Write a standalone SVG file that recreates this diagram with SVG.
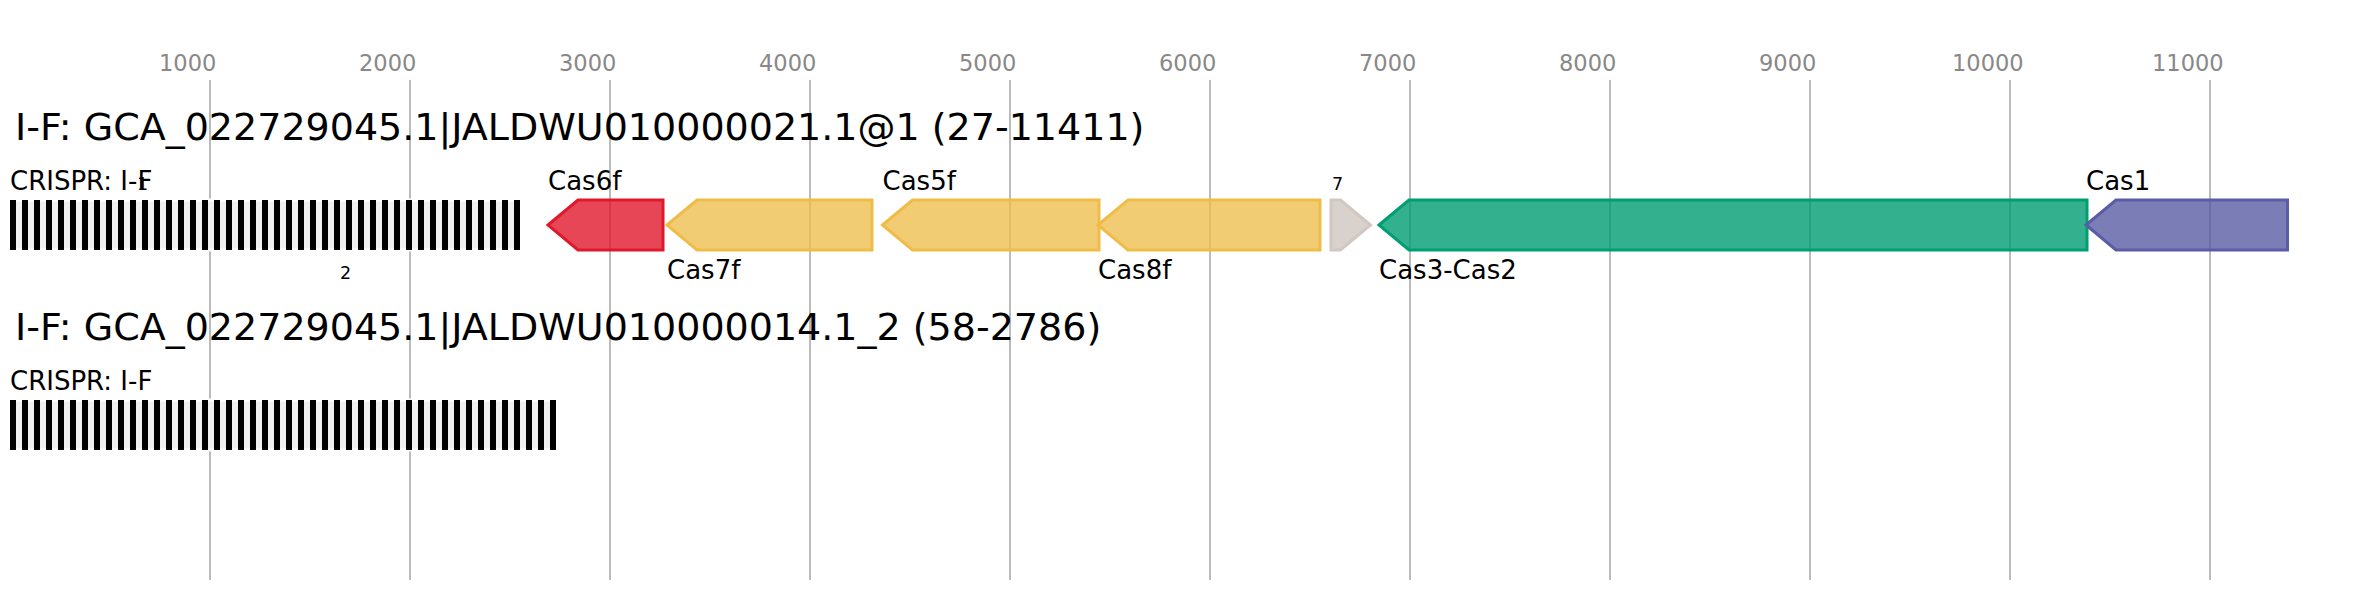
<svg xmlns="http://www.w3.org/2000/svg" width="2377" height="600" viewBox="0 0 2377 600">
<defs>
<style>
text{font-family:"DejaVu Sans","Liberation Sans",sans-serif;fill:#000}
.tick{font-size:22.5px;fill:#888}
.title{font-size:38px}
.lbl{font-size:26px}
.num{font-size:17.5px}
.grid line{stroke:#bbb;stroke-width:2}
.arrbg{fill:#f0f0f0;stroke:#fff;stroke-width:3}
.rep{fill:#000}
.gene{stroke-width:3;stroke-linejoin:miter;fill-opacity:0.8}
.red{fill:#e0182b;stroke:#e0182b}
.yel{fill:#efbf50;stroke:#f0bc48}
.gry{fill:#cfc5be;stroke:#d2c8c1}
.grn{fill:#009e73;stroke:#009e73}
.pur{fill:#5a5da5;stroke:#5a5da5}
</style>
<pattern id="rep" x="10" y="0" width="12" height="600" patternUnits="userSpaceOnUse">
<rect x="0" y="0" width="6" height="600" fill="#000"/>
</pattern>
</defs>
<rect width="2377" height="600" fill="#fff"/>
<g id="axis">
<g class="grid">
<line x1="210" y1="80" x2="210" y2="580"/>
<line x1="410" y1="80" x2="410" y2="580"/>
<line x1="610" y1="80" x2="610" y2="580"/>
<line x1="810" y1="80" x2="810" y2="580"/>
<line x1="1010" y1="80" x2="1010" y2="580"/>
<line x1="1210" y1="80" x2="1210" y2="580"/>
<line x1="1410" y1="80" x2="1410" y2="580"/>
<line x1="1610" y1="80" x2="1610" y2="580"/>
<line x1="1810" y1="80" x2="1810" y2="580"/>
<line x1="2010" y1="80" x2="2010" y2="580"/>
<line x1="2210" y1="80" x2="2210" y2="580"/>
</g>
<text class="tick" x="159" y="71">1000</text>
<text class="tick" x="359" y="71">2000</text>
<text class="tick" x="559" y="71">3000</text>
<text class="tick" x="759" y="71">4000</text>
<text class="tick" x="959" y="71">5000</text>
<text class="tick" x="1159" y="71">6000</text>
<text class="tick" x="1359" y="71">7000</text>
<text class="tick" x="1559" y="71">8000</text>
<text class="tick" x="1759" y="71">9000</text>
<text class="tick" x="1952" y="71">10000</text>
<text class="tick" x="2152" y="71">11000</text>
</g>
<g id="row1">
<text class="title" x="15" y="140">I-F: GCA_022729045.1|JALDWU010000021.1@1 (27-11411)</text>
<g id="crispr1">
<rect class="arrbg" x="10" y="200" width="510" height="50"/>
<rect x="10" y="200" width="510" height="50" fill="url(#rep)"/>
<text class="lbl" x="10" y="190">CRISPR: I-F</text>
<text class="num" x="137" y="190">1</text>
<text class="num" x="340" y="279">2</text>
</g>
<g id="cas6f">
<polygon class="gene red" points="548,225 578,200 663,200 663,250 578,250"/>
<text class="lbl" x="548" y="189.5">Cas6f</text>
</g>
<g id="cas7f">
<polygon class="gene yel" points="667,225 697,200 872,200 872,250 697,250"/>
<text class="lbl" x="667" y="279">Cas7f</text>
</g>
<g id="cas5f">
<polygon class="gene yel" points="882.5,225 912.5,200 1099,200 1099,250 912.5,250"/>
<text class="lbl" x="882.5" y="189.5">Cas5f</text>
</g>
<g id="cas8f">
<polygon class="gene yel" points="1098,225 1128,200 1320,200 1320,250 1128,250"/>
<text class="lbl" x="1098" y="279">Cas8f</text>
</g>
<g id="gene7">
<polygon class="gene gry" points="1331,200 1340.5,200 1370.5,225 1340.5,250 1331,250"/>
<text class="num" x="1332" y="189.5">7</text>
</g>
<g id="cas3cas2">
<polygon class="gene grn" points="1379,225 1409,200 2087,200 2087,250 1409,250"/>
<text class="lbl" x="1379" y="279">Cas3-Cas2</text>
</g>
<g id="cas1">
<polygon class="gene pur" points="2086,225 2116,200 2287.5,200 2287.5,250 2116,250"/>
<text class="lbl" x="2086" y="189.5">Cas1</text>
</g>
</g>
<g id="row2">
<text class="title" x="15" y="340">I-F: GCA_022729045.1|JALDWU010000014.1_2 (58-2786)</text>
<g id="crispr2">
<rect class="arrbg" x="10" y="400" width="546" height="50"/>
<rect x="10" y="400" width="546" height="50" fill="url(#rep)"/>
<text class="lbl" x="10" y="390">CRISPR: I-F</text>
</g>
</g>
<g id="connectors"/>
</svg>
